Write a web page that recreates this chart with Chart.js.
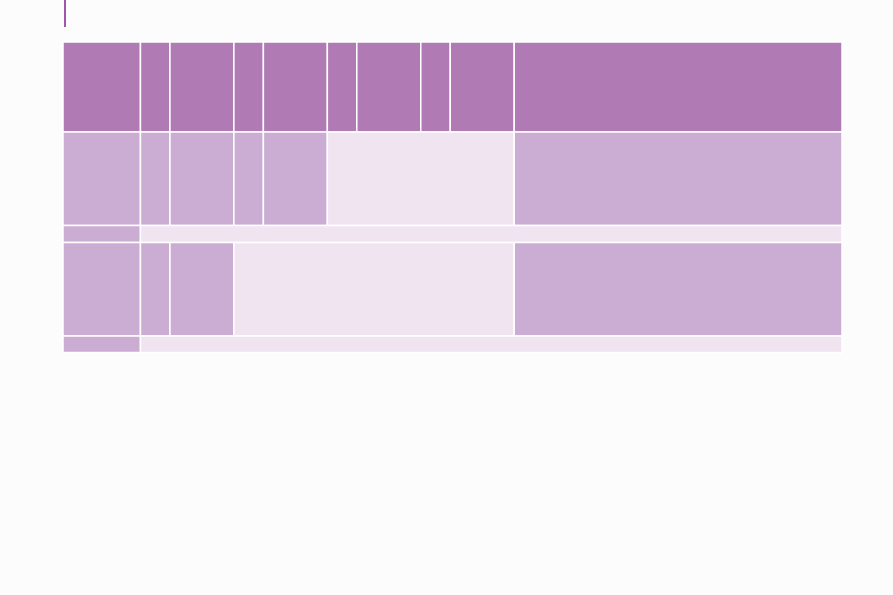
<!DOCTYPE html>
<html>
<head>
<meta charset="utf-8">
<script src="https://cdn.jsdelivr.net/npm/chart.js@4/dist/chart.umd.min.js"></script>
<style>
  html, body { margin: 0; padding: 0; background: #FDFCFD; }
  #wrap { position: relative; width: 893px; height: 595px; }
  #accent { position: absolute; left: 64px; top: 0; width: 2px; height: 27px; background: #A055A8; }
  canvas { position: absolute; left: 0; top: 0; }
</style>
</head>
<body>
<div id="wrap">
  <canvas id="c" width="893" height="595"></canvas>
  <div id="accent"></div>
</div>
<script>
// Table structure (column widths and row heights in table units)
const colWidths = [77.5, 29.5, 64, 29.5, 64, 29.5, 64, 29.5, 64, 328];
const rowHeights = [90, 93.5, 17, 93.5, 16.5];
// Cell spans per row: [firstCol, lastCol, shade] (0 = header, 1 = medium, 2 = light)
const row0Cells = [[0,0,0],[1,1,0],[2,2,0],[3,3,0],[4,4,0],[5,5,0],[6,6,0],[7,7,0],[8,8,0],[9,9,0]];
const row1Cells = [[0,0,1],[1,1,1],[2,2,1],[3,3,1],[4,4,1],[5,8,2],[9,9,1]];
const row2Cells = [[0,0,1],[1,9,2]];
const row3Cells = [[0,0,1],[1,1,1],[2,2,1],[3,8,2],[9,9,1]];
const row4Cells = [[0,0,1],[1,9,2]];
const rows = [row0Cells, row1Cells, row2Cells, row3Cells, row4Cells];
const shades = ['#B07AB4', '#CBADD3', '#F0E4F1'];

const colEdges = [0];
colWidths.forEach(w => colEdges.push(colEdges[colEdges.length - 1] + w));
const rowEdges = [0];
rowHeights.forEach(h => rowEdges.push(rowEdges[rowEdges.length - 1] + h));

const cellPlugin = {
  id: 'cells',
  beforeDatasetsDraw(chart) {
    const ctx = chart.ctx;
    const xs = chart.scales.x, ys = chart.scales.y;
    ctx.save();
    rows.forEach((cells, r) => {
      const yTop = ys.getPixelForValue(rowEdges[r]);
      const yBot = ys.getPixelForValue(rowEdges[r + 1]);
      cells.forEach(([c0, c1, s]) => {
        const xL = xs.getPixelForValue(colEdges[c0]);
        const xR = xs.getPixelForValue(colEdges[c1 + 1]);
        ctx.fillStyle = shades[s];
        ctx.fillRect(xL, yTop, xR - xL, yBot - yTop);
        ctx.strokeStyle = '#FFFFFF';
        ctx.lineWidth = 1.5;
        ctx.strokeRect(xL, yTop, xR - xL, yBot - yTop);
      });
    });
    ctx.restore();
  }
};

new Chart(document.getElementById('c'), {
  type: 'scatter',
  data: { datasets: [{ data: [], showLine: false }] },
  options: {
    responsive: false,
    animation: false,
    devicePixelRatio: 1,
    layout: { padding: { left: 63, right: 51, top: 42, bottom: 242.5 } },
    plugins: { legend: { display: false }, tooltip: { enabled: false }, title: { display: false } },
    scales: {
      x: { type: 'linear', min: 0, max: colEdges[colEdges.length - 1], display: false },
      y: { type: 'linear', min: 0, max: rowEdges[rowEdges.length - 1], reverse: true, display: false }
    }
  },
  plugins: [cellPlugin]
});
</script>
</body>
</html>
